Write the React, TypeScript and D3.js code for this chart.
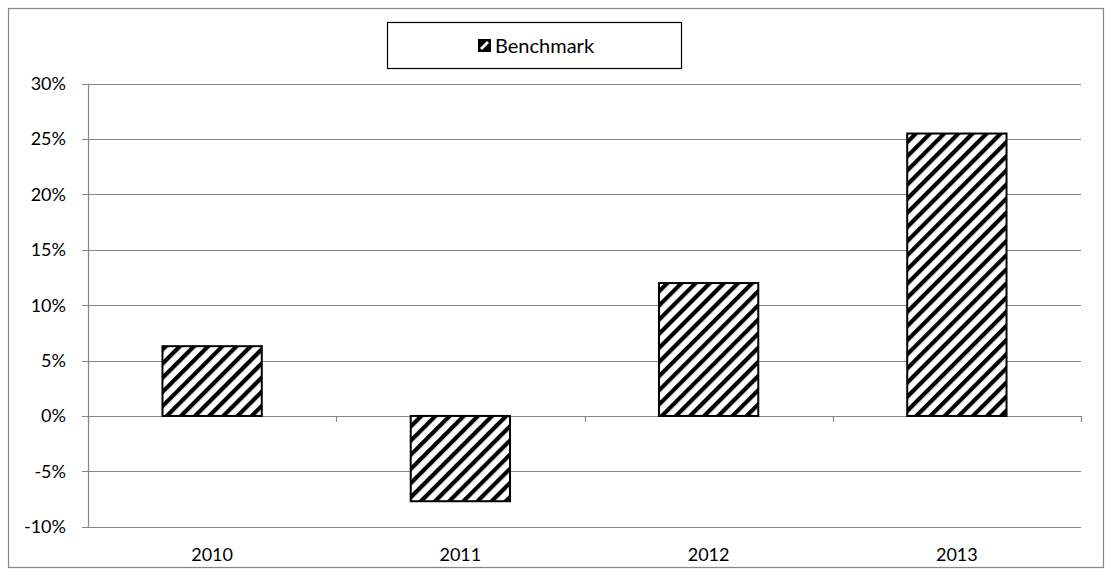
import React from "react";
import * as d3 from "d3";

const categories = ["2010", "2011", "2012", "2013"];
const benchmark = [6.3, -7.7, 12.0, 25.5];
const yTicks = [-10, -5, 0, 5, 10, 15, 20, 25, 30];
const seriesName = "Benchmark";

const W = 1112;
const H = 576;
const plot = { left: 88, right: 1081, top: 83.7, bottom: 526.7 };
const FONT = "Lato, 'Open Sans', sans-serif";
const GRID = "#868686";

export default function App() {
  const x = d3
    .scaleBand<string>()
    .domain(categories)
    .range([plot.left, plot.right])
    .paddingInner(0.6)
    .paddingOuter(0.3);
  const y = d3.scaleLinear().domain([-10, 30]).range([plot.bottom, plot.top]);
  const step = x.step();
  const boundaries = d3.range(categories.length + 1).map((i) => plot.left + i * step);

  const sw = { x: 478, y: 39, s: 13 };

  return (
    <svg
      width={W}
      height={H}
      style={{ position: "absolute", left: 0, top: 0 }}
      fontFamily={FONT}
    >
      <defs>
        <pattern
          id="hatch"
          patternUnits="userSpaceOnUse"
          width={10}
          height={10}
          patternTransform="rotate(45)"
        >
          <rect x={0} y={0} width={10} height={10} fill="#fff" />
          <rect x={0} y={0} width={4.2} height={10} fill="#000" />
        </pattern>
      </defs>
      <rect x={0} y={0} width={W} height={H} fill="#fff" />
      <rect x={8.5} y={8.5} width={1095} height={559} fill="none" stroke={GRID} strokeWidth={1.2} />

      {/* gridlines */}
      {yTicks.map((t) => (
        <g key={t}>
          <line
            x1={plot.left - 6}
            x2={plot.right}
            y1={Math.round(y(t)) + 0.5}
            y2={Math.round(y(t)) + 0.5}
            stroke={GRID}
            strokeWidth={1.2}
          />
          <text
            x={66}
            y={y(t)}
            dy="0.35em"
            textAnchor="end"
            fontSize={18}
            fill="#000"
          >
            {t}%
          </text>
        </g>
      ))}
      {/* y axis line */}
      <line
        x1={plot.left + 0.5}
        x2={plot.left + 0.5}
        y1={plot.top}
        y2={plot.bottom}
        stroke={GRID}
        strokeWidth={1.2}
      />
      {/* category tick marks below zero line */}
      {boundaries.map((b, i) => (
        <line
          key={i}
          x1={Math.round(b) + 0.5}
          x2={Math.round(b) + 0.5}
          y1={y(0)}
          y2={y(0) + 6}
          stroke={GRID}
          strokeWidth={1.2}
        />
      ))}

      {/* bars */}
      {benchmark.map((v, i) => {
        const y0 = y(Math.max(0, v));
        const y1 = y(Math.min(0, v));
        return (
          <rect
            key={categories[i]}
            x={x(categories[i])!}
            y={y0}
            width={x.bandwidth()}
            height={y1 - y0}
            fill="url(#hatch)"
            stroke="#000"
            strokeWidth={2}
          />
        );
      })}

      {/* x labels */}
      {categories.map((c) => (
        <text
          key={c}
          x={x(c)! + x.bandwidth() / 2}
          y={555}
          dy="0.35em"
          textAnchor="middle"
          fontSize={18}
          fill="#000"
        >
          {c}
        </text>
      ))}

      {/* legend */}
      <rect x={387.5} y={22.5} width={294} height={46} fill="#fff" stroke="#000" strokeWidth={1.2} />
      <rect x={sw.x} y={sw.y} width={sw.s} height={sw.s} fill="#000" />
      <polygon
        points={`${sw.x + 2},${sw.y + sw.s - 4} ${sw.x + sw.s - 4},${sw.y + 2} ${sw.x + sw.s - 2},${sw.y + 4} ${sw.x + 4},${sw.y + sw.s - 2}`}
        fill="#fff"
      />
      <text x={495} y={46} dy="0.35em" fontSize={20} fill="#000">
        {seriesName}
      </text>
    </svg>
  );
}
